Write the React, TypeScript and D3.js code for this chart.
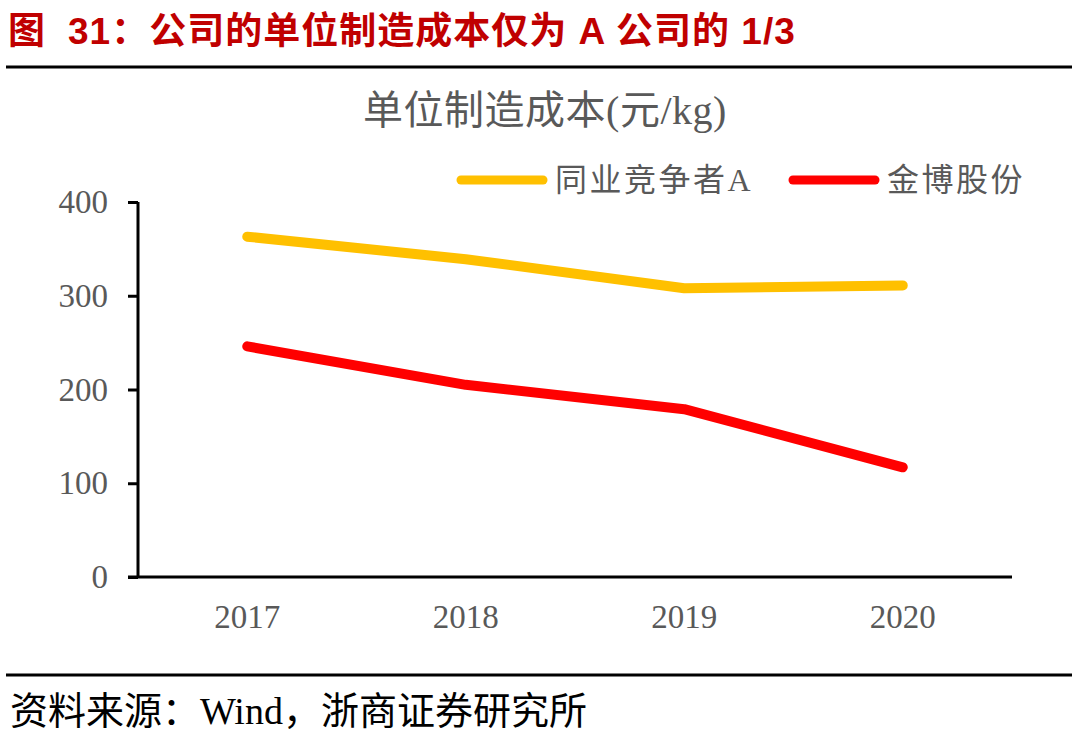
import { useRef, useEffect } from 'react'
import * as d3 from 'd3'

const YEARS = ['2017', '2018', '2019', '2020']
const RIVAL_A = [363, 339, 308, 311]
const JINBO = [246, 205, 179, 117]
const Y_TICKS = [0, 100, 200, 300, 400]
const SERIES_NAMES = ['同业竞争者A', '金博股份']

const W = 1080
const H = 736
const PLOT = { left: 138, right: 1012, top: 202, bottom: 577 }
const SERIF = '"Liberation Serif", "Times New Roman", "Noto Sans CJK SC", serif'
const GREY = '#595959'

export default function App() {
  const svgRef = useRef<SVGSVGElement>(null)

  useEffect(() => {
    if (!svgRef.current) return
    const el = d3.select(svgRef.current)
    el.selectAll('*').remove()

    // Header
    const header = el.append('text')
      .attr('x', 8).attr('y', 44)
      .attr('fill', '#C00000')
      .attr('font-family', '"Liberation Sans", Arial, "Noto Sans CJK SC", sans-serif')
      .attr('font-weight', 'bold')
      .attr('font-size', 37)
      .attr('letter-spacing', 1)
    header.append('tspan').text('图')
    header.append('tspan').attr('dx', 22).text('31：公司的单位制造成本仅为 A 公司的 1/3')

    el.append('line')
      .attr('x1', 6).attr('x2', 1072).attr('y1', 67).attr('y2', 67)
      .attr('stroke', '#000').attr('stroke-width', 3)

    el.append('line')
      .attr('x1', 6).attr('x2', 1072).attr('y1', 675).attr('y2', 675)
      .attr('stroke', '#000').attr('stroke-width', 3)

    el.append('text')
      .attr('x', 10).attr('y', 724)
      .attr('fill', '#000')
      .attr('font-family', SERIF)
      .attr('font-size', 38)
      .text('资料来源：Wind，浙商证券研究所')

    // Chart title
    el.append('text')
      .attr('x', 545).attr('y', 124)
      .attr('text-anchor', 'middle')
      .attr('fill', GREY)
      .attr('font-family', SERIF)
      .attr('font-size', 40)
      .attr('letter-spacing', 0.5)
      .text('单位制造成本(元/kg)')

    const x = d3.scaleBand().domain(YEARS).range([PLOT.left, PLOT.right])
    const y = d3.scaleLinear().domain([0, 400]).range([PLOT.bottom, PLOT.top])
    const cx = (d: string) => (x(d) ?? 0) + x.bandwidth() / 2

    // Y axis
    el.append('g')
      .attr('transform', `translate(${PLOT.left},0)`)
      .call(d3.axisLeft(y).tickValues(Y_TICKS).tickSize(10).tickPadding(20).tickFormat((d) => `${d}`))
      .call((g) => {
        g.select('.domain').attr('stroke', '#000').attr('stroke-width', 3)
          .attr('d', `M0,${PLOT.top}V${PLOT.bottom}`)
        g.selectAll('.tick line').attr('stroke', '#000').attr('stroke-width', 3)
        g.selectAll('text').attr('fill', GREY).attr('font-family', SERIF).attr('font-size', 33)
      })

    // X axis
    el.append('g')
      .attr('transform', `translate(0,${PLOT.bottom})`)
      .call(d3.axisBottom(x).tickSize(0))
      .call((g) => {
        g.select('.domain').attr('stroke', '#000').attr('stroke-width', 3)
          .attr('d', `M${PLOT.left - 10},0H${PLOT.right}`)
        g.selectAll('text')
          .attr('y', 51).attr('dy', 0)
          .attr('fill', GREY).attr('font-family', SERIF).attr('font-size', 33)
      })

    const line = d3.line<number>()
      .x((_, i) => cx(YEARS[i]))
      .y((d) => y(d))

    const series = [
      { name: SERIES_NAMES[0], values: RIVAL_A, color: '#FFC000' },
      { name: SERIES_NAMES[1], values: JINBO, color: '#FF0000' },
    ]

    series.forEach((s) => {
      el.append('path')
        .datum(s.values)
        .attr('fill', 'none')
        .attr('stroke', s.color)
        .attr('stroke-width', 10)
        .attr('stroke-linecap', 'round')
        .attr('stroke-linejoin', 'round')
        .attr('d', line)
    })

    // Legend
    const legendX = [461, 793]
    series.forEach((s, i) => {
      const g = el.append('g').attr('transform', `translate(${legendX[i]},180)`)
      g.append('line')
        .attr('x1', 0).attr('x2', 82).attr('y1', 0).attr('y2', 0)
        .attr('stroke', s.color).attr('stroke-width', 9).attr('stroke-linecap', 'round')
      g.append('text')
        .attr('x', 94).attr('y', 11)
        .attr('fill', GREY)
        .attr('font-family', SERIF)
        .attr('font-size', 32)
        .attr('letter-spacing', 2.5)
        .text(s.name)
    })
  }, [])

  return (
    <svg
      ref={svgRef}
      width={W}
      height={H}
      style={{ position: 'absolute', left: 0, top: 0, background: '#fff' }}
    />
  )
}
